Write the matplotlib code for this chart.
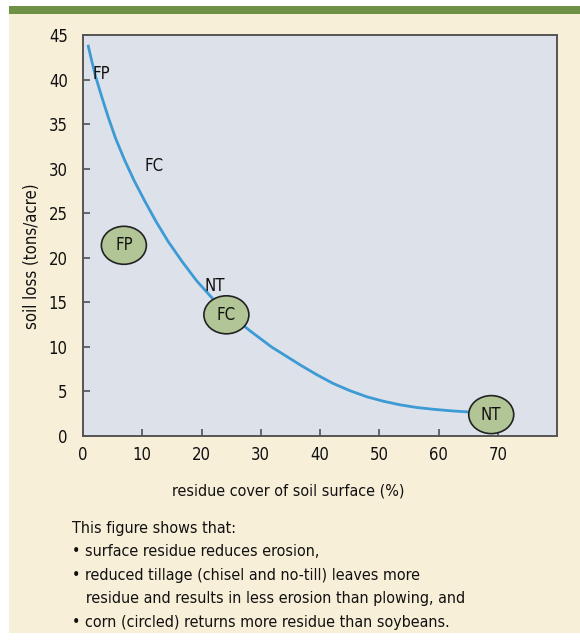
import matplotlib
matplotlib.use("Agg")
import matplotlib.pyplot as plt
from matplotlib.patches import Rectangle, Ellipse

plt.rcParams['font.family'] = ['DejaVu Sans']
plt.rcParams['font.stretch'] = 'condensed'

# Soil-loss curve versus residue cover
residue_pct = [0.84, 1.4, 2.1, 3.1, 4.2, 5.5, 7.0, 8.6, 10.4, 12.3, 14.4, 16.7, 19.2,
               21.9, 25.0, 28.2, 31.8, 34.2, 36.6, 39.4, 42.2, 45.0, 47.9, 50.7,
               53.5, 56.3, 59.1, 62.0, 65.0, 67.5]
soil_loss = [43.9, 42.3, 40.4, 38.2, 35.9, 33.4, 31.0, 28.7, 26.4, 24.1, 21.8, 19.6, 17.4,
             15.4, 13.5, 11.8, 10.0, 9.0, 8.0, 6.9, 5.9, 5.1, 4.4, 3.9,
             3.5, 3.2, 3.0, 2.83, 2.7, 2.65]

# Plain labels (soybeans)
plain_labels = ["FP", "FC", "NT"]
plain_x = [3.1, 12.0, 22.3]
plain_y = [40.6, 30.3, 16.8]

# Circled labels (corn)
circled_labels = ["FP", "FC", "NT"]
circled_x = [6.9, 24.2, 68.9]
circled_y = [21.4, 13.6, 2.4]

x_ticks = [0, 10, 20, 30, 40, 50, 60, 70]
y_ticks = [0, 5, 10, 15, 20, 25, 30, 35, 40, 45]

caption_lines = [
    "This figure shows that:",
    "\u2022 surface residue reduces erosion,",
    "\u2022 reduced tillage (chisel and no-till) leaves more",
    "   residue and results in less erosion than plowing, and",
    "\u2022 corn (circled) returns more residue than soybeans.",
]

W, H = 580, 643
fig = plt.figure(figsize=(W / 100, H / 100), dpi=100)
fig.patch.set_facecolor("white")

# Cream panel and green header strip
fig.patches.append(Rectangle((9 / W, 1 - 633 / H), 1 - 9 / W, (633 - 14) / H,
                             transform=fig.transFigure, facecolor="#F8EFD9",
                             edgecolor="none", zorder=-2))
fig.patches.append(Rectangle((9 / W, 1 - 14 / H), 1 - 9 / W, 8 / H,
                             transform=fig.transFigure, facecolor="#6F9146",
                             edgecolor="none", zorder=-2))

ax = fig.add_axes([83 / W, 1 - 436 / H, (557 - 83) / W, (436 - 35) / H])
ax.set_facecolor("#DDE1EA")
ax.set_xlim(0, 80)
ax.set_ylim(0, 45)

ax.plot(residue_pct, soil_loss, color="#3C9AD5", lw=2.0, solid_capstyle="butt",
        solid_joinstyle="round", zorder=2)

for lab, x, y in zip(plain_labels, plain_x, plain_y):
    ax.text(x, y, lab, fontsize=12, ha="center", va="center", color="#111111", zorder=3)

# ellipse size given in pixels, converted to data units
ell_w = 45 / ((557 - 83) / 80)
ell_h = 38 / ((436 - 35) / 45)
for lab, x, y in zip(circled_labels, circled_x, circled_y):
    ax.add_patch(Ellipse((x, y), ell_w, ell_h, facecolor="#B2C596", edgecolor="#222222",
                         lw=1.2, zorder=4, clip_on=False))
    ax.text(x, y, lab, fontsize=12, ha="center", va="center", color="#111111", zorder=5)

ax.set_xticks(x_ticks)
ax.set_yticks(y_ticks)
ax.tick_params(direction="in", length=5, width=1.1, color="#444444",
               labelsize=12, labelcolor="#111111")
ax.tick_params(axis="y", pad=11)
ax.tick_params(axis="x", pad=7)
for s in ax.spines.values():
    s.set_color("#555555")
    s.set_linewidth(1.4)

fig.text(32 / W, 1 - 256 / H, "soil loss (tons/acre)", rotation=90, fontsize=12,
         ha="center", va="center", color="#111111")
fig.text(288 / W, 1 - 491 / H, "residue cover of soil surface (%)", fontsize=11.5,
         ha="center", va="center", color="#111111")

y0 = 528
for i, line in enumerate(caption_lines):
    fig.text(72 / W, 1 - (y0 + i * 23.6) / H, line, fontsize=11.5,
             ha="left", va="center", color="#111111")

fig.savefig("out.png", dpi=100)
